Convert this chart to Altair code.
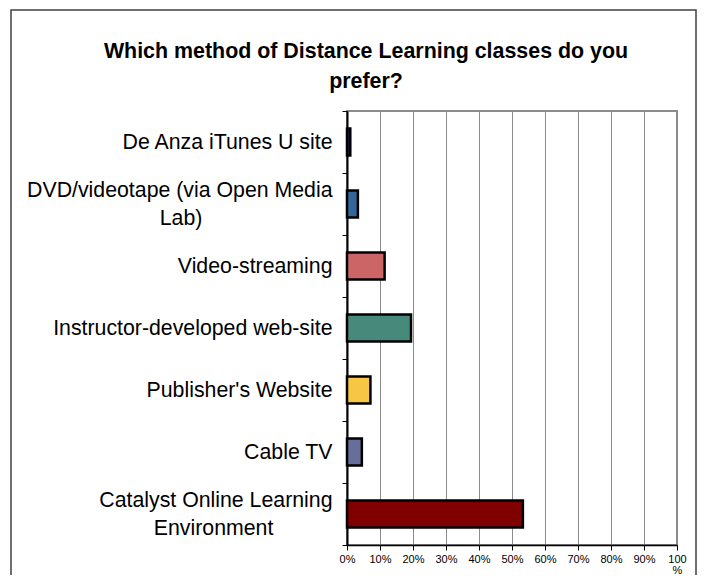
import json
import altair as alt
import pandas as pd

categories = [
    "De Anza iTunes U site",
    "DVD/videotape (via Open Media Lab)",
    "Video-streaming",
    "Instructor-developed web-site",
    "Publisher's Website",
    "Cable TV",
    "Catalyst Online Learning Environment",
]
values = [0.010, 0.033, 0.114, 0.194, 0.071, 0.045, 0.533]
colors = ["#1b1b4f", "#336699", "#cc6666", "#478a7c", "#f6c644", "#666e99", "#800000"]
x_ticks = [0.0, 0.1, 0.2, 0.3, 0.4, 0.5, 0.6, 0.7, 0.8, 0.9, 1.0]
title_lines = ["Which method of Distance Learning classes do you", "prefer?"]

df = pd.DataFrame({"method": categories, "share": values})

NB = "\u00a0"
WJ = "\u2060"
wrapped = {
    categories[1]: ["DVD/videotape (via Open Media", "Lab)" + NB * 22 + WJ],
    categories[6]: ["Catalyst Online Learning", "Environment" + NB * 10 + WJ],
}
y_expr = "datum.label"
for k, v in wrapped.items():
    y_expr = f"datum.value == {json.dumps(k)} ? {json.dumps(v)} : " + y_expr
multi_test = f"indexof({json.dumps(list(wrapped.keys()))}, datum.value) >= 0"

FONT = "Liberation Sans"

bars = alt.Chart(df).mark_bar(size=27, stroke="black", strokeWidth=2.5).encode(
    x=alt.X(
        "share:Q",
        scale=alt.Scale(domain=[0, 1], nice=False),
        axis=alt.Axis(
            values=x_ticks,
            format=".0%",
            labelExpr="datum.value == 1 ? ['100', '%'] : datum.label",
            title=None,
            grid=True,
            gridColor="#8c8c8c",
            gridWidth=1,
            domainColor="black",
            domainWidth=1.5,
            tickColor="black",
            tickSize=5,
            tickWidth=1,
            labelFontSize=11,
            labelPadding=3,
            labelLineHeight=11,
            labelColor="black",
            labelFont=FONT,
            labelFlush=False,
            labelOverlap=False,
        ),
    ),
    y=alt.Y(
        "method:N",
        sort=categories,
        scale=alt.Scale(paddingInner=0, paddingOuter=0),
        axis=alt.Axis(
            title=None,
            tickBand="extent",
            labelExpr=y_expr,
            labelLimit=400,
            labelFontSize=21.3,
            labelFont=FONT,
            labelColor="black",
            labelAlign="right",
            labelBaseline={"condition": {"test": multi_test, "value": "line-bottom"}, "value": "middle"},
            labelLineHeight=28,
            labelPadding=10,
            tickSize=5,
            tickColor="black",
            tickWidth=1,
            domainColor="black",
            domainWidth=2,
            grid=False,
        ),
    ),
    color=alt.Color("method:N", scale=alt.Scale(domain=categories, range=colors), legend=None),
)

frame = alt.Chart(alt.Data(values=[{}])).mark_rect(
    fillOpacity=0, stroke="#404040", strokeWidth=1.5
).encode(
    x=alt.value(-336), x2=alt.value(349), y=alt.value(-101), y2=alt.value(480)
)

chart = alt.layer(frame, bars).properties(
    width=330,
    height=434,
    autosize="none",
    padding={"left": 339, "top": 103, "right": 20, "bottom": 30},
    title=alt.TitleParams(
        title_lines,
        fontSize=21.4,
        fontWeight="bold",
        font=FONT,
        anchor="middle",
        dx=-146,
        offset=-83,
        lineHeight=30,
        color="black",
    ),
).configure_view(stroke="#8c8c8c", strokeWidth=2)

chart.save("out.html", embed_options={"renderer": "svg", "actions": False})
